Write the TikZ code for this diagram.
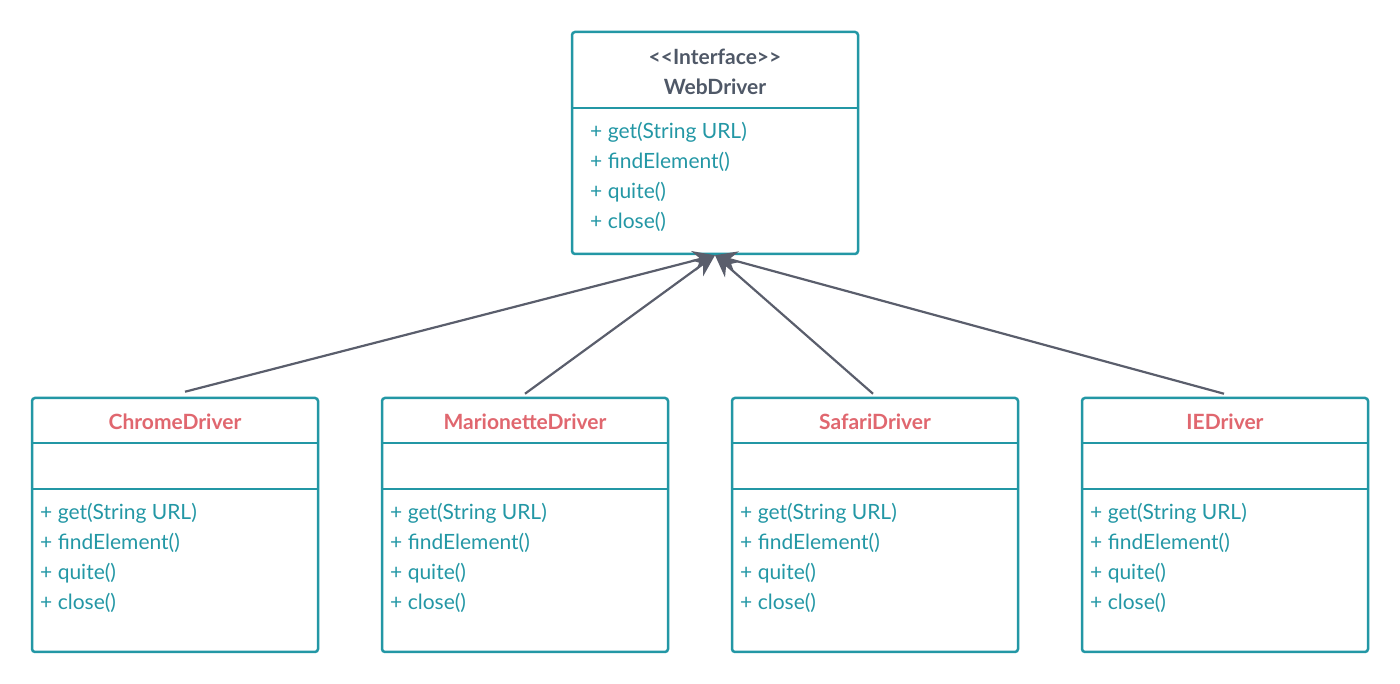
\documentclass[tikz,border=0pt]{standalone}
\usepackage{fontspec}
\setmainfont{Lato}
\usetikzlibrary{arrows.meta, positioning}
\definecolor{umlteal}{HTML}{2397A5}
\definecolor{umlred}{HTML}{E0676F}
\definecolor{umlhead}{HTML}{4F5867}
\definecolor{umledge}{HTML}{5A5E6C}

\begin{document}
\begin{tikzpicture}[x=1pt,y=1pt,
    classbox/.style={draw=umlteal, line width=2.5pt, rounded corners=3pt, minimum width=286pt, inner sep=0pt},
    mtd/.style={text=umlteal, font=\fontsize{21}{21}\selectfont, anchor=west, inner sep=0pt},
    cname/.style={text=umlred, font=\fontsize{21}{21}\selectfont\bfseries, inner sep=0pt},
    hname/.style={text=umlhead, font=\fontsize{21}{21}\selectfont\bfseries, inner sep=0pt},
    divline/.style={draw=umlteal, line width=2.5pt},
    realize/.style={draw=umledge, line width=2.2pt, -{Stealth[length=22pt,width=20pt]}}]
    \useasboundingbox (0,0) rectangle (1400,684);
    % interface
    \node[classbox, minimum height=222pt] (web) at (715,541) {};
    \draw[divline] (web.west |- 0,576) -- (web.east |- 0,576);
    \node[hname] (stereo) at (715,627) {<\kern0pt<Interface>\kern0pt>};
    \node[hname] (webname) at (715,597) {WebDriver};
    \foreach \m [count=\i] in {get(String URL), findElement(), quite(), close()}
        \node[mtd] (web-m\i) at (590,582-30*\i) {+ \m};
    % classes
    \foreach \cls/\txt/\cx in {chrome/ChromeDriver/175, marionette/MarionetteDriver/525, safari/SafariDriver/875, ie/IEDriver/1225} {
        \node[classbox, minimum height=254pt] (\cls) at (\cx,159) {};
        \draw[divline] (\cls.west |- 0,241) -- (\cls.east |- 0,241);
        \draw[divline] (\cls.west |- 0,195) -- (\cls.east |- 0,195);
        \node[cname] (\cls-name) at (\cx,262) {\txt};
        \foreach \m [count=\i] in {get(String URL), findElement(), quite(), close()}
            \node[mtd] (\cls-m\i) at (\cx-135,201-30*\i) {+ \m};
    }
    % realization
    \draw[realize] ([xshift=10pt,yshift=5pt]chrome.north) -- (web.south);
    \draw[realize] ([yshift=3pt]marionette.north) -- (web.south);
    \draw[realize] ([xshift=-2pt,yshift=3pt]safari.north) -- (web.south);
    \draw[realize] ([xshift=-1pt,yshift=3pt]ie.north) -- (web.south);
\end{tikzpicture}
\end{document}
